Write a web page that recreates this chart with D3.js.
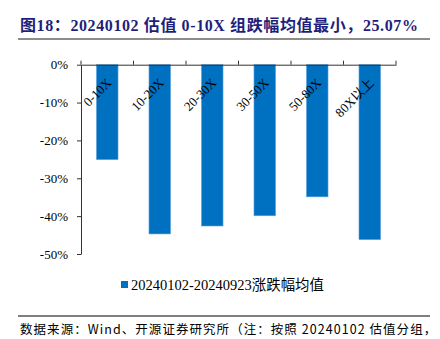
<!DOCTYPE html>
<html><head><meta charset="utf-8">
<script src="https://cdn.jsdelivr.net/npm/d3@7"></script>
<style>body{margin:0;background:#fff}svg{display:block}</style>
</head><body>
<script>
const categories = ["0-10X","10-20X","20-30X","30-50X","50-80X","80X以上"];
const values = [-25.07,-44.7,-42.6,-39.9,-34.9,-46.2];
const yTicks = [0,-10,-20,-30,-40,-50];
const seriesDates = "20240102-20240923";
const seriesLabel = "涨跌幅均值";
const title = "图18：20240102 估值 0-10X 组跌幅均值最小，25.07%";
const source = "数据来源：Wind、开源证券研究所（注：按照 20240102 估值分组，";

const W=440,H=339;
const svg=d3.select("body").append("svg").attr("width",W).attr("height",H);
const serif="'Liberation Serif','Times New Roman','Noto Sans CJK SC',serif";

svg.append("text").attr("x",20).attr("y",31).text(title)
 .attr("font-family",serif).attr("font-weight","bold").attr("font-size",16).attr("letter-spacing",0.6).attr("fill","#1f1f7a");
svg.append("line").attr("x1",18).attr("x2",430).attr("y1",39).attr("y2",39).attr("stroke","#8c8c8c").attr("stroke-width",2);

const x=d3.scaleBand().domain(categories).range([81,396]).paddingInner(0.59).paddingOuter(0.295);
const y=d3.scaleLinear().domain([-50,0]).range([254,64.7]);

const g=svg.append("g");
g.selectAll("rect").data(values).join("rect")
 .attr("x",(d,i)=>x(categories[i])).attr("width",x.bandwidth())
 .attr("y",y(0)).attr("height",d=>y(d)-y(0))
 .attr("fill","#0070C0").attr("stroke","#5aa0da").attr("stroke-width",0.6);

const yAxis=svg.append("g").attr("transform","translate(81,0)")
 .call(d3.axisLeft(y).tickValues(yTicks).tickFormat(d=>d+"%").tickSize(4).tickSizeOuter(0));
yAxis.select(".domain").attr("stroke","#333");
yAxis.selectAll(".tick line").attr("stroke","#333");
yAxis.selectAll("text").attr("font-family",serif).attr("font-size",13).attr("fill","#000").attr("x",-13);

const xb=d3.scaleBand().domain(categories).range([81,396]);
const xAxis=svg.append("g").attr("transform",`translate(0,${y(0)})`)
 .call(d3.axisTop(xb).tickSize(0).tickFormat(""));
xAxis.select(".domain").attr("stroke","#333");
svg.append("g").selectAll("line").data(d3.range(categories.length+1)).join("line")
 .attr("x1",i=>81+i*xb.step()).attr("x2",i=>81+i*xb.step())
 .attr("y1",y(0)).attr("y2",y(0)-4).attr("stroke","#333");

svg.append("g").selectAll("text").data(categories).join("text")
 .attr("transform",d=>`translate(${xb(d)+xb.bandwidth()/2+5},${y(0)+19}) rotate(-45)`)
 .attr("text-anchor","end").text(d=>d)
 .attr("font-family",serif).attr("font-size",13).attr("fill","#000");

// legend
svg.append("rect").attr("x",121).attr("y",281).attr("width",7).attr("height",7).attr("fill","#0070C0");
const lt=svg.append("text").attr("x",131).attr("y",290)
 .attr("font-family",serif).attr("font-size",14.5).attr("fill","#000");
lt.append("tspan").text(seriesDates);
lt.append("tspan").text(seriesLabel).attr("font-size",14.4);

svg.append("line").attr("x1",18).attr("x2",430).attr("y1",316).attr("y2",316).attr("stroke","#000").attr("stroke-width",1);
svg.append("text").attr("x",20).attr("y",334).text(source)
 .attr("font-family","'Noto Sans CJK SC',serif").attr("font-size",12.5).attr("letter-spacing",1.05).attr("fill","#000");
</script>
</body></html>
